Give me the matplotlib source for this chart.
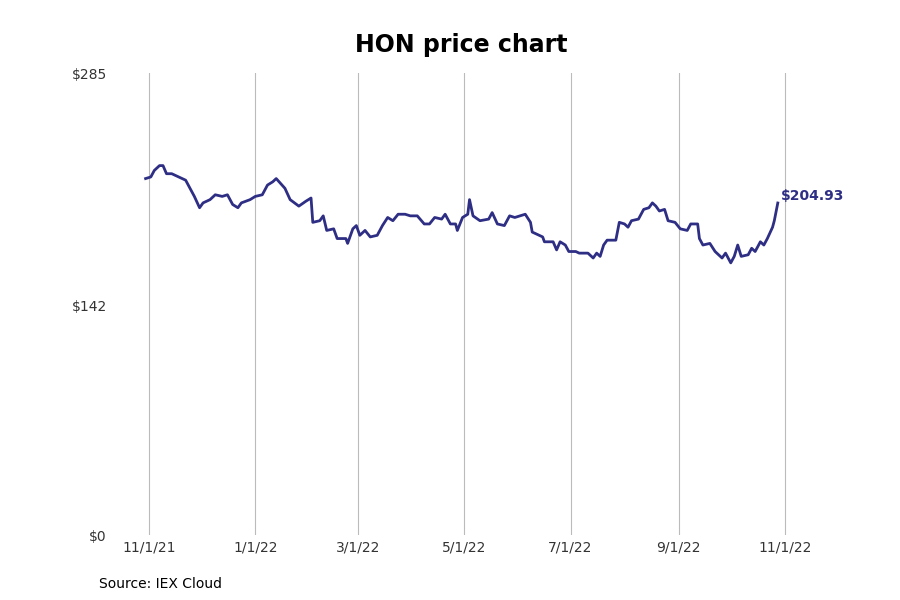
import datetime as dt
import numpy as np
import matplotlib
matplotlib.use("Agg")
import matplotlib.pyplot as plt
import matplotlib.dates as mdates

# days since 2021-11-01 and closing prices
day_offsets = [-2, 1, 3, 6, 8, 10, 13, 17, 21, 24, 26, 29, 31, 35, 38, 42, 45, 48, 51, 53,
               58, 61, 65, 68, 71, 73, 78, 81, 86, 90, 93, 94, 98, 100, 102, 106, 108, 113,
               114, 117, 119, 121, 124, 127, 131, 134, 137, 140, 143, 147, 150, 154, 158,
               161, 164, 168, 170, 173, 176, 177, 180, 183, 184, 186, 190, 195, 197, 200,
               204, 207, 210, 213, 216, 219, 220, 226, 227, 232, 234, 236, 239, 241, 245,
               247, 252, 255, 257, 259, 261, 263, 268, 270, 273, 275, 277, 281, 284, 287,
               289, 291, 293, 296, 298, 302, 305, 309, 311, 315, 316, 318, 322, 325, 329,
               331, 334, 336, 338, 340, 344, 346, 348, 351, 353, 355, 358, 359, 361]
prices = [220, 221, 225, 228, 228, 223, 223, 221, 219, 213, 209, 202, 205, 207, 210, 209,
          210, 204, 202, 205, 207, 209, 210, 216, 218, 220, 214, 207, 203, 206, 208, 193,
          194, 197, 188, 189, 183, 183, 180, 189, 191, 185, 188, 184, 185, 191, 196, 194,
          198, 198, 197, 197, 192, 192, 196, 195, 198, 192, 192, 188, 196, 198, 207, 197,
          194, 195, 199, 192, 191, 197, 196, 197, 198, 193, 187, 184, 181, 181, 176, 181,
          179, 175, 175, 174, 174, 171, 174, 172, 179, 182, 182, 193, 192, 190, 194, 195,
          201, 202, 205, 203, 200, 201, 194, 193, 189, 188, 192, 192, 183, 179, 180, 175,
          171, 174, 168, 172, 179, 172, 173, 177, 175, 181, 179, 183, 190, 194, 204.93]
tick_labels = ["11/1/21", "1/1/22", "3/1/22", "5/1/22", "7/1/22", "9/1/22", "11/1/22"]
y_ticks = [0, 142, 285]

start = dt.date(2021, 11, 1)
dates = [start + dt.timedelta(days=d) for d in day_offsets]
tick_dates = [dt.datetime.strptime(t, "%m/%d/%y").date() for t in tick_labels]

color = "#2e2e85"
fig = plt.figure(figsize=(9, 6), dpi=100)
ax = fig.add_axes([0.125, 0.108, 0.805, 0.77])
ax.plot(dates, prices, color=color, lw=2)
ax.set_xlim(start + dt.timedelta(days=-21), start + dt.timedelta(days=395))
ax.set_ylim(0, 285)
ax.set_xticks(tick_dates)
ax.set_xticklabels(tick_labels)
ax.set_yticks(y_ticks)
ax.set_yticklabels(["$%d" % v for v in y_ticks])
ax.grid(axis="x", color="#bbbbbb", lw=0.8)
for s in ax.spines.values():
    s.set_visible(False)
ax.tick_params(length=0, labelsize=10, colors="#333333")
ax.tick_params(axis="y", pad=4)
ax.annotate("$%.2f" % prices[-1], (dates[-1], prices[-1]), xytext=(2, 0),
            textcoords="offset points", color=color, fontweight="bold",
            fontsize=10, va="bottom")
fig.suptitle("HON price chart", fontsize=17, fontweight="bold", x=0.512, y=0.945)
fig.text(0.11, 0.02, "Source: IEX Cloud", fontsize=10)
fig.savefig("out.png")
